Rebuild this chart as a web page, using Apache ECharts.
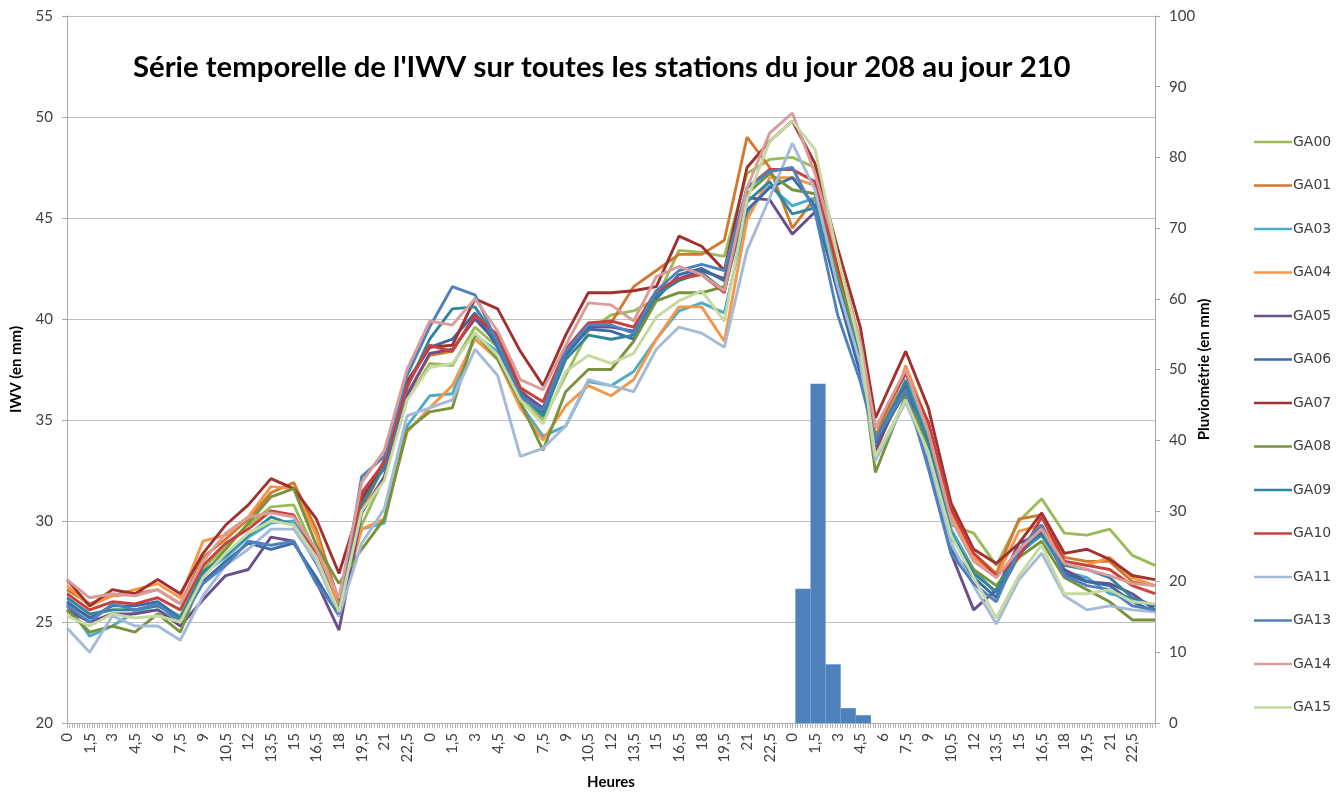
<!DOCTYPE html>
<html>
<head>
<meta charset="utf-8">
<title>IWV</title>
<script src="https://cdn.jsdelivr.net/npm/echarts@6/dist/echarts.min.js"></script>
<style>
  html, body { margin: 0; padding: 0; background: #fff; }
  #chart { width: 1341px; height: 792px; }
</style>
</head>
<body>
<div id="chart"></div>
<script>
// heures depuis le début du jour 208 (3 jours)
const hours = [0, 1.5, 3, 4.5, 6, 7.5, 9, 10.5, 12, 13.5, 15, 16.5, 18, 19.5, 21, 22.5,
  24, 25.5, 27, 28.5, 30, 31.5, 33, 34.5, 36, 37.5, 39, 40.5, 42, 43.5, 45, 46.5,
  48, 49.5, 51, 52.5, 53.5, 55.5, 57, 58.5, 60, 61.5, 63, 64.5, 66, 67.5, 69, 70.5, 72];

const GA00 = [25.8, 25.3, 25.6, 25.6, 25.8, 25.3, 27.6, 28.8, 29.8, 30.7, 30.8, 28.4, 25.8, 29.8, 32.2, 36.0, 37.8, 37.7, 39.6, 38.6, 36.2, 35.0, 37.2, 39.4, 40.2, 40.4, 41.0, 43.4, 43.3, 43.1, 47.2, 47.9, 48.0, 47.5, 42.8, 38.6, 33.6, 36.6, 33.6, 29.8, 29.4, 27.8, 30.0, 31.1, 29.4, 29.3, 29.6, 28.3, 27.8];
const GA01 = [26.6, 25.9, 26.3, 26.4, 26.6, 25.9, 28.2, 29.1, 30.1, 31.4, 31.9, 29.6, 26.0, 30.5, 32.8, 36.3, 38.2, 38.4, 40.2, 39.0, 36.5, 35.4, 38.2, 39.6, 39.8, 41.6, 42.4, 43.2, 43.2, 43.9, 49.0, 47.5, 44.5, 46.0, 42.4, 38.4, 34.2, 37.4, 34.5, 30.6, 28.4, 27.4, 30.1, 30.3, 28.2, 28.0, 28.0, 27.0, 26.8];
const GA03 = [25.9, 24.3, 24.8, 25.5, 25.6, 25.0, 27.4, 28.2, 29.2, 29.9, 30.0, 28.2, 25.8, 29.6, 29.9, 34.7, 36.2, 36.3, 39.2, 38.4, 35.8, 34.2, 34.7, 36.9, 36.7, 37.4, 39.0, 40.4, 40.8, 40.3, 45.2, 46.6, 45.6, 46.0, 42.0, 38.3, 33.8, 37.0, 34.2, 29.6, 27.6, 26.4, 28.4, 29.3, 27.5, 27.2, 26.4, 26.2, 25.8];
const GA04 = [26.8, 25.8, 26.3, 26.6, 26.9, 26.2, 29.0, 29.3, 30.2, 31.7, 31.6, 29.3, 25.6, 29.6, 30.1, 34.4, 35.6, 36.7, 39.0, 38.0, 35.6, 34.0, 35.7, 36.7, 36.2, 37.0, 39.0, 40.6, 40.6, 38.9, 44.9, 47.0, 47.0, 46.6, 42.6, 38.8, 33.2, 37.7, 34.8, 30.4, 28.2, 27.2, 29.5, 29.8, 28.0, 27.8, 28.2, 27.2, 26.8];
const GA05 = [25.6, 25.0, 25.4, 25.4, 25.6, 24.8, 26.1, 27.3, 27.6, 29.2, 29.0, 27.0, 24.6, 30.4, 32.2, 36.2, 38.3, 38.5, 40.0, 38.8, 36.4, 35.6, 38.3, 39.6, 39.6, 39.4, 41.2, 42.0, 42.4, 42.0, 46.0, 45.9, 44.2, 45.3, 41.6, 37.6, 33.5, 36.8, 33.0, 28.4, 25.6, 26.6, 28.9, 29.4, 27.6, 27.0, 26.9, 26.4, 25.6];
const GA06 = [26.0, 25.2, 25.8, 25.8, 26.0, 25.2, 27.0, 28.0, 28.9, 28.6, 28.9, 27.2, 25.3, 31.2, 32.6, 36.8, 38.6, 39.0, 40.3, 38.6, 36.2, 35.4, 38.2, 39.5, 39.4, 39.0, 41.0, 42.2, 42.5, 41.9, 45.4, 46.5, 47.0, 45.6, 41.3, 37.3, 33.9, 36.4, 32.8, 28.6, 27.2, 26.2, 28.3, 29.6, 27.4, 27.0, 26.8, 26.0, 25.5];
const GA07 = [27.1, 25.8, 26.6, 26.4, 27.1, 26.4, 28.4, 29.8, 30.8, 32.1, 31.6, 30.1, 27.4, 31.0, 33.0, 36.9, 38.6, 38.7, 41.0, 40.5, 38.4, 36.7, 39.2, 41.3, 41.3, 41.4, 41.6, 44.1, 43.6, 42.4, 47.5, 48.8, 49.8, 47.7, 43.5, 39.6, 35.1, 38.4, 35.6, 30.9, 28.6, 27.9, 28.9, 30.4, 28.4, 28.6, 28.1, 27.3, 27.1];
const GA08 = [25.6, 24.5, 24.8, 24.5, 25.4, 24.5, 27.3, 28.6, 29.9, 31.2, 31.6, 28.8, 26.9, 28.6, 30.1, 34.5, 35.4, 35.6, 39.3, 38.0, 35.9, 33.5, 36.4, 37.5, 37.5, 38.9, 40.9, 41.3, 41.3, 41.6, 46.2, 47.2, 46.4, 46.2, 42.3, 38.2, 32.4, 36.2, 33.8, 29.2, 27.6, 26.8, 28.2, 29.0, 27.2, 26.6, 26.0, 25.1, 25.1];
const GA09 = [26.2, 25.4, 25.6, 25.6, 25.8, 25.2, 27.5, 28.3, 29.3, 30.2, 29.8, 27.9, 25.6, 30.8, 32.7, 36.6, 39.0, 40.5, 40.6, 38.9, 36.3, 35.2, 38.0, 39.2, 39.0, 39.2, 41.2, 41.9, 42.3, 41.4, 45.8, 46.8, 45.2, 45.5, 41.8, 38.0, 34.0, 36.9, 33.9, 29.4, 27.4, 26.5, 28.6, 29.3, 27.8, 27.6, 27.2, 26.2, 25.8];
const GA10 = [26.4, 25.6, 26.0, 25.9, 26.2, 25.6, 27.8, 28.9, 29.6, 30.5, 30.3, 28.3, 25.5, 31.4, 32.9, 36.7, 38.7, 38.4, 40.2, 39.2, 36.6, 35.9, 38.5, 39.8, 39.9, 39.6, 41.4, 42.0, 42.2, 41.3, 46.5, 47.4, 47.4, 46.8, 42.6, 38.9, 34.6, 37.3, 34.9, 30.6, 28.4, 27.3, 28.2, 30.2, 28.0, 27.8, 27.6, 26.8, 26.4];
const GA11 = [24.7, 23.5, 25.3, 24.8, 24.8, 24.1, 26.3, 27.8, 28.6, 29.6, 29.6, 28.0, 25.3, 28.9, 30.6, 35.2, 35.6, 36.0, 38.5, 37.2, 33.2, 33.6, 34.7, 37.0, 36.7, 36.4, 38.5, 39.6, 39.3, 38.6, 43.4, 46.0, 48.7, 46.4, 41.6, 37.8, 33.0, 35.9, 33.2, 28.9, 26.8, 24.9, 27.1, 28.4, 26.3, 25.6, 25.8, 25.6, 25.5];
const GA13 = [25.8, 25.0, 25.9, 25.6, 25.9, 25.0, 26.9, 27.8, 29.0, 28.8, 29.0, 26.9, 25.4, 32.2, 33.2, 37.2, 39.6, 41.6, 41.2, 38.8, 36.1, 35.5, 38.4, 39.7, 39.7, 39.3, 41.4, 42.4, 42.7, 42.4, 46.5, 47.3, 47.5, 45.3, 40.2, 36.9, 34.0, 36.5, 32.6, 28.4, 26.9, 26.0, 28.6, 29.8, 27.3, 26.8, 26.6, 25.8, 25.6];
const GA14 = [27.1, 26.2, 26.4, 26.3, 26.6, 25.9, 28.0, 29.4, 30.2, 30.4, 30.2, 28.6, 26.2, 31.9, 33.5, 37.5, 39.9, 39.7, 41.0, 39.4, 37.0, 36.5, 38.7, 40.8, 40.7, 39.9, 42.1, 42.6, 42.2, 41.4, 46.5, 49.2, 50.2, 47.2, 43.1, 38.9, 34.6, 37.5, 34.4, 30.1, 28.0, 27.2, 28.6, 29.6, 27.9, 27.6, 27.3, 26.9, 26.8];
const GA15 = [25.3, 24.8, 25.4, 25.2, 25.3, 25.0, 27.2, 28.4, 29.4, 30.0, 29.8, 28.2, 25.5, 30.5, 32.0, 36.0, 37.6, 37.8, 39.3, 38.2, 36.0, 34.8, 37.4, 38.2, 37.8, 38.3, 40.1, 40.9, 41.4, 39.9, 45.9, 48.8, 49.8, 48.4, 43.1, 38.5, 33.2, 36.0, 33.4, 29.3, 27.2, 25.2, 27.3, 28.8, 26.4, 26.4, 26.6, 26.0, 25.9];

// pluviométrie horaire (début de l'heure, mm)
const rainStart = [48.2, 49.2, 50.2, 51.2, 52.2];
const rainValues = [19, 48, 8.3, 2.1, 1.1];

const stations = ['GA00', 'GA01', 'GA03', 'GA04', 'GA05', 'GA06', 'GA07', 'GA08', 'GA09', 'GA10', 'GA11', 'GA13', 'GA14', 'GA15'];
const stationData = [GA00, GA01, GA03, GA04, GA05, GA06, GA07, GA08, GA09, GA10, GA11, GA13, GA14, GA15];
const colors = ['#9BBB59', '#D2782F', '#4BACC6', '#F79646', '#6B4F8C', '#3C6AA6', '#A0312E', '#77933C', '#31859C', '#C9403D', '#A3BAD9', '#4F81BD', '#DA9C9A', '#C5D9A0'];

// créneaux de 10 min pour les petites graduations de l'axe des heures
const tickSlots = [];
for (let i = 0; i <= 72 * 6; i++) tickSlots.push(String(i));

const chart = echarts.init(document.getElementById('chart'));

const lineSeries = stations.map((name, i) => ({
  name: name,
  type: 'line',
  xAxisIndex: 0,
  yAxisIndex: 0,
  symbol: 'none',
  smooth: false,
  z: 3,
  data: hours.map((h, k) => [h, stationData[i][k]]),
  lineStyle: { color: colors[i], width: 2.9 },
  itemStyle: { color: colors[i] }
}));

const rainSeries = {
  name: 'Pluie',
  type: 'custom',
  xAxisIndex: 0,
  yAxisIndex: 1,
  z: 2,
  encode: { x: 0, y: 1 },
  data: rainStart.map((s, i) => [s, rainValues[i]]),
  renderItem: function (params, api) {
    const s = api.value(0);
    const v = api.value(1);
    const p0 = api.coord([s, 0]);
    const p1 = api.coord([s + 1, v]);
    return {
      type: 'rect',
      shape: { x: p0[0], y: p1[1], width: p1[0] - p0[0], height: p0[1] - p1[1] },
      style: { fill: '#4F81BD' }
    };
  }
};

const axisLabelFont = { fontFamily: 'Lato', fontSize: 15, color: '#404040' };

function hourLabel(v) {
  const h = Math.round((v % 24) * 10) / 10;
  return String(h).replace('.', ',');
}

chart.setOption({
  animation: false,
  backgroundColor: '#ffffff',
  title: {
    text: "Série temporelle de l'IWV sur toutes les stations du jour 208 au jour 210",
    left: 128,
    top: 48,
    textStyle: { fontFamily: 'Lato', fontWeight: 'bold', fontSize: 29.3, color: '#000' }
  },
  legend: {
    orient: 'vertical',
    left: 1249,
    top: 130,
    itemWidth: 38,
    itemHeight: 14,
    itemGap: 29.5,
    icon: 'path://M0,6 L38,6 L38,8.5 L0,8.5 Z',
    data: stations,
    textStyle: { fontFamily: 'DejaVu Sans', fontSize: 14, color: '#404040', padding: [0, 0, 0, -4] }
  },
  grid: { left: 67, right: 186, top: 16, bottom: 69, containLabel: false, outerBoundsMode: 'none' },
  xAxis: [
    {
      type: 'value',
      min: 0,
      max: 72,
      interval: 1.5,
      name: 'Heures',
      nameLocation: 'middle',
      nameGap: 52,
      nameMoveOverlap: false,
      nameTextStyle: { fontFamily: 'Lato', fontWeight: 'bold', fontSize: 15, color: '#000' },
      axisLine: { lineStyle: { color: '#A6A6A6' } },
      axisTick: { show: true, length: 5, lineStyle: { color: '#A6A6A6' } },
      splitLine: { show: false },
      axisLabel: {
        rotate: 90,
        margin: 10,
        showMaxLabel: false,
        fontFamily: 'Lato', fontSize: 15, color: '#404040',
        formatter: hourLabel
      }
    },
    {
      type: 'category',
      position: 'bottom',
      boundaryGap: false,
      data: tickSlots,
      axisLine: { show: false },
      axisTick: { show: true, interval: 0, length: 5, lineStyle: { color: '#B4B4B4' } },
      axisLabel: { show: false },
      splitLine: { show: false }
    }
  ],
  yAxis: [
    {
      type: 'value',
      min: 20,
      max: 55,
      interval: 5,
      name: 'IWV (en mm)',
      nameLocation: 'middle',
      nameGap: 43,
      nameMoveOverlap: false,
      nameRotate: 90,
      nameTextStyle: { fontFamily: 'Lato', fontWeight: 'bold', fontSize: 15, color: '#000' },
      axisLine: { show: true, lineStyle: { color: '#A6A6A6' } },
      axisTick: { show: true, length: 5, lineStyle: { color: '#A6A6A6' } },
      axisLabel: Object.assign({ margin: 14 }, axisLabelFont),
      splitLine: { show: true, lineStyle: { color: '#BFBFBF', width: 1 } }
    },
    {
      type: 'value',
      min: 0,
      max: 100,
      interval: 10,
      position: 'right',
      name: 'Pluviométrie (en mm)',
      nameLocation: 'middle',
      nameGap: 42,
      nameMoveOverlap: false,
      nameRotate: 90,
      nameTextStyle: { fontFamily: 'Lato', fontWeight: 'bold', fontSize: 15, color: '#000' },
      axisLine: { show: true, lineStyle: { color: '#A6A6A6' } },
      axisTick: { show: true, length: 5, lineStyle: { color: '#A6A6A6' } },
      axisLabel: Object.assign({ margin: 14 }, axisLabelFont),
      splitLine: { show: false }
    }
  ],
  series: [rainSeries].concat(lineSeries)
});
</script>
</body>
</html>
